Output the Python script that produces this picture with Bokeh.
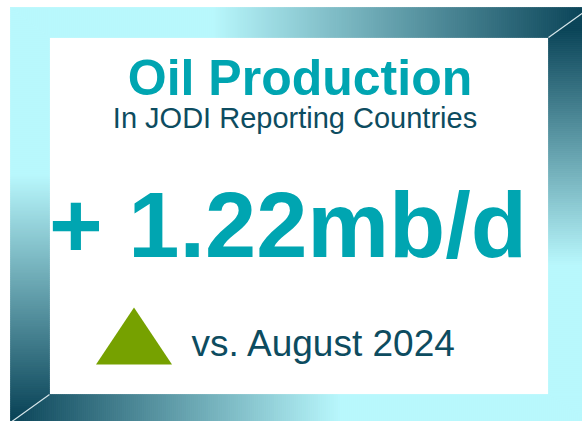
import numpy as np
from bokeh.plotting import figure
from bokeh.models import Range1d
from bokeh.embed import file_html
from bokeh.resources import INLINE
from bokeh.core.properties import value

# ---- content ----
title = "Oil Production"
subtitle = "In JODI Reporting Countries"
change_value = 1.22
change_unit = "mb/d"
comparison = "vs. August 2024"

# ---- styles ----
TEAL = "#00a5b1"
NAVY = "#0d4c60"
GREEN = "#76a100"
CYAN = np.array([184, 247, 252], dtype=float)
DARK = np.array([10, 68, 88], dtype=float)
FONT = value("Liberation Sans")
BASE_SHIFT = 0.34  # empirical alphabetic-baseline correction (em)

p = figure(width=582, height=421, x_range=Range1d(0, 582), y_range=Range1d(421, 0),
           output_backend="svg", toolbar_location=None, min_border=0,
           x_axis_location=None, y_axis_location=None)
p.grid.visible = False
p.outline_line_color = None
p.background_fill_color = "white"
p.border_fill_color = "white"

# ---- bevelled gradient frame ----
OX0, OY0, OX1, OY1 = 10, 7, 590, 422
IX0, IY0, IX1, IY1 = 49, 37, 548, 394


def mix(t):
    t = float(np.clip(t, 0, 1))
    c = CYAN + (DARK - CYAN) * t
    return "#%02x%02x%02x" % tuple(int(round(v)) for v in c)


def steps(a, b, kinks, step=2.0):
    pts = set(np.arange(a, b, step).tolist()) | {b} | set(kinks)
    return sorted(pts)


xs_all, ys_all, cols = [], [], []

def yb_top(x):
    if x < IX0:
        return OY0 + (x - OX0) * (IY0 - OY0) / (IX0 - OX0)
    if x > IX1:
        return IY0 - (x - IX1) * (IY0 - OY0) / (OX1 - IX1)
    return IY0

g = steps(OX0, OX1, [IX0, IX1])
for xa, xb in zip(g[:-1], g[1:]):
    xs_all.append([xa, xb, xb, xa])
    ys_all.append([OY0, OY0, yb_top(xb), yb_top(xa)])
    cols.append(mix(((xa + xb) / 2 - 212) / (582 - 212)))

def yt_bot(x):
    if x < IX0:
        return OY1 - (x - OX0) * (OY1 - IY1) / (IX0 - OX0)
    if x > IX1:
        return IY1 + (x - IX1) * (OY1 - IY1) / (OX1 - IX1)
    return IY1

for xa, xb in zip(g[:-1], g[1:]):
    xs_all.append([xa, xb, xb, xa])
    ys_all.append([yt_bot(xa), yt_bot(xb), OY1, OY1])
    cols.append(mix((340 - (xa + xb) / 2) / (340 - 12)))

def xr_left(y):
    if y < IY0:
        return OX0 + (y - OY0) * (IX0 - OX0) / (IY0 - OY0)
    if y > IY1:
        return IX0 - (y - IY1) * (IX0 - OX0) / (OY1 - IY1)
    return IX0

gy = steps(OY0, OY1, [IY0, IY1])
for ya, yb in zip(gy[:-1], gy[1:]):
    xs_all.append([OX0, xr_left(ya), xr_left(yb), OX0])
    ys_all.append([ya, ya, yb, yb])
    cols.append(mix(((ya + yb) / 2 - 175) / (415 - 175)))

def xl_right(y):
    if y < IY0:
        return OX1 - (y - OY0) * (OX1 - IX1) / (IY0 - OY0)
    if y > IY1:
        return IX1 + (y - IY1) * (OX1 - IX1) / (OY1 - IY1)
    return IX1

for ya, yb in zip(gy[:-1], gy[1:]):
    xs_all.append([xl_right(ya), OX1, OX1, xl_right(yb)])
    ys_all.append([ya, ya, yb, yb])
    cols.append(mix((265 - (ya + yb) / 2) / (265 - 30)))

p.patches(xs_all, ys_all, fill_color=cols, line_color=cols, line_width=0.8)

# miter highlights
p.segment(x0=[IX1, IX0], y0=[IY0, IY1], x1=[OX1, OX0], y1=[OY0, OY1],
          line_color="#d6e6ea", line_width=1.2)

# ---- texts ----
def put(x, baseline, txt, size, color, bold=False, align="center"):
    p.text(x=[x], y=[baseline - BASE_SHIFT * size], text=[txt], text_font=FONT,
           text_font_style="bold" if bold else "normal",
           text_font_size=f"{size}px", text_color=color, text_align=align,
           text_baseline="alphabetic")

put(299.5, 94, title, 50, TEAL, bold=True)
put(294.5, 127, subtitle, 29, NAVY)
put(287.5, 256, f"+ {change_value:.2f}{change_unit}", 92, TEAL, bold=True)
put(191, 356, comparison, 37, NAVY, align="left")

# ---- up indicator ----
tri_cx, tri_base, tri_w, tri_h = 133.5, 364, 76, 57
p.patch([tri_cx - tri_w / 2, tri_cx + tri_w / 2, tri_cx],
        [tri_base, tri_base, tri_base - tri_h],
        fill_color=GREEN, line_color=None)

open("out.html", "w").write(file_html(p, INLINE))
